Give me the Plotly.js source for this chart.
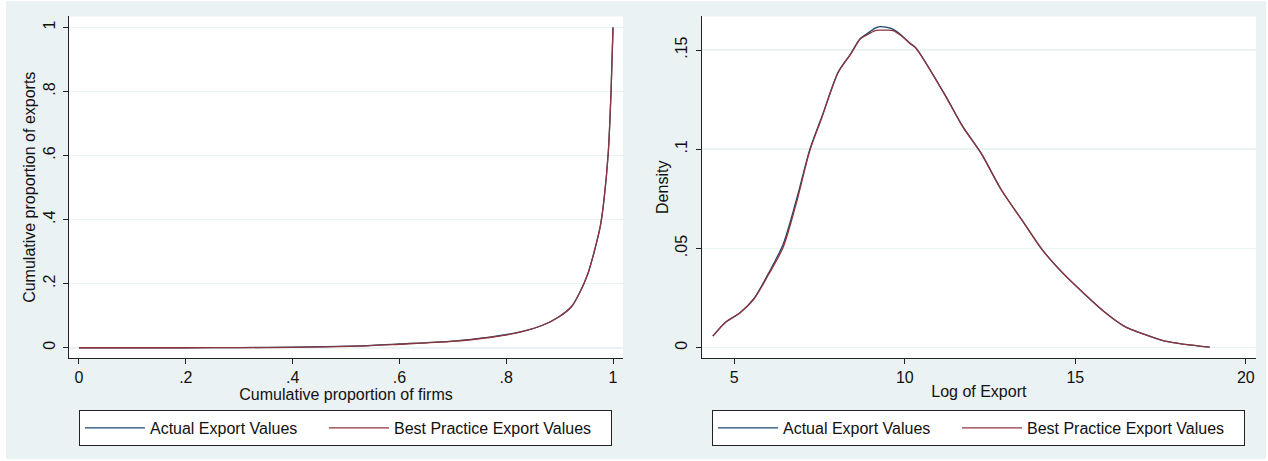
<!DOCTYPE html>
<html><head><meta charset="utf-8">
<script src="https://cdn.plot.ly/plotly-3.0.1.min.js"></script>
<style>html,body{margin:0;padding:0;background:#fff;}#chart{position:absolute;left:6px;top:1px;width:1260px;height:458px;}</style>
</head><body><div id="chart"></div>
<script>
// Left panel: cumulative proportion of firms vs cumulative proportion of exports
const lorenzX      = [0, 0.1, 0.2, 0.3, 0.4, 0.525, 0.6, 0.693, 0.769, 0.83, 0.869, 0.899, 0.922, 0.937, 0.953, 0.964, 0.976, 0.983, 0.991, 0.9963, 1];
const lorenzActual = [0, 0, 0, 0.0005, 0.002, 0.006, 0.012, 0.020, 0.033, 0.051, 0.071, 0.097, 0.128, 0.170, 0.232, 0.295, 0.378, 0.461, 0.607, 0.80, 1.0];
const lorenzBest   = [0, 0, 0, 0.0005, 0.001, 0.005, 0.011, 0.019, 0.032, 0.050, 0.071, 0.097, 0.128, 0.170, 0.232, 0.295, 0.378, 0.461, 0.607, 0.80, 1.0];
const lorenzTickVals = [0, 0.2, 0.4, 0.6, 0.8, 1];
const lorenzTickText = ['0', '.2', '.4', '.6', '.8', '1'];

// Right panel: kernel density of log exports
const densX      = [4.37, 4.73, 5.17, 5.59, 6.01, 6.43, 6.85, 7.21, 7.57, 8.05, 8.41, 8.69, 8.88, 9.13, 9.27, 9.45, 9.65, 9.9, 10.15, 10.32, 11.16, 11.70, 12.24, 12.83, 13.43, 14.03, 14.63, 15.23, 15.83, 16.43, 17.03, 17.63, 18.22, 18.94];
const densActual = [0.0058, 0.0126, 0.0176, 0.0251, 0.0377, 0.0520, 0.0763, 0.0997, 0.1165, 0.1390, 0.1480, 0.1557, 0.1580, 0.1610, 0.1618, 0.1615, 0.1605, 0.1575, 0.1535, 0.1512, 0.1280, 0.1115, 0.0980, 0.0796, 0.0645, 0.0494, 0.0377, 0.0277, 0.0184, 0.0109, 0.0067, 0.0033, 0.0017, 0.0003];
const densBest   = [0.0058, 0.0126, 0.0176, 0.0248, 0.0370, 0.0505, 0.0748, 0.0990, 0.1160, 0.1388, 0.1478, 0.1555, 0.1575, 0.1598, 0.1600, 0.1600, 0.1598, 0.1572, 0.1533, 0.1510, 0.1278, 0.1113, 0.0978, 0.0795, 0.0644, 0.0493, 0.0376, 0.0277, 0.0184, 0.0109, 0.0067, 0.0033, 0.0017, 0.0003];
const densXTickVals = [5, 10, 15, 20];
const densYTickVals = [0, 0.05, 0.1, 0.15];
const densYTickText = ['0', '.05', '.1', '.15'];

const seriesNames = ['Actual Export Values', 'Best Practice Export Values'];
const navy = '#1a476f', maroon = '#90353b';
const bg = '#eaf2f3', axisCol = '#222';
const fontFam = 'Liberation Sans, Arial, sans-serif';
const txt = {family: fontFam, size: 16, color: '#111'};

const lineStyle = (c, s) => ({color: c, width: 1.3, shape: 'spline', smoothing: s});
const traces = [
  {x: lorenzX, y: lorenzActual, name: seriesNames[0], xaxis: 'x', yaxis: 'y', legend: 'legend',
   mode: 'lines', line: lineStyle(navy, 0.6), legendwidth: 169},
  {x: lorenzX, y: lorenzBest, name: seriesNames[1], xaxis: 'x', yaxis: 'y', legend: 'legend',
   mode: 'lines', line: lineStyle(maroon, 0.6), legendwidth: 212},
  {x: densX, y: densActual, name: seriesNames[0], xaxis: 'x2', yaxis: 'y2', legend: 'legend2',
   mode: 'lines', line: lineStyle(navy, 0.8), legendwidth: 169},
  {x: densX, y: densBest, name: seriesNames[1], xaxis: 'x2', yaxis: 'y2', legend: 'legend2',
   mode: 'lines', line: lineStyle(maroon, 0.8), legendwidth: 212}
];

const axBase = {
  showline: true, linecolor: axisCol, linewidth: 1, mirror: false, automargin: false,
  ticks: 'outside', ticklen: 5, tickwidth: 1, tickcolor: axisCol,
  zeroline: false, tickfont: txt
};
const legBase = {
  orientation: 'h', xanchor: 'left', yanchor: 'top', y: 0.107,
  bgcolor: '#ffffff', bordercolor: axisCol, borderwidth: 1,
  font: txt, itemwidth: 60, traceorder: 'normal'
};

const layout = {
  width: 1260, height: 458, autosize: false,
  margin: {l: 0, r: 0, t: 0, b: 0, pad: 0},
  paper_bgcolor: bg, plot_bgcolor: '#ffffff',
  font: {family: fontFam, color: '#111'},
  showlegend: true,
  xaxis: Object.assign({}, axBase, {
    domain: [0.05, 0.4897], range: [-0.0187, 1.0187], anchor: 'y',
    tickvals: lorenzTickVals, ticktext: lorenzTickText, showgrid: false, ticklabelstandoff: 0,
    title: {text: 'Cumulative proportion of firms', font: txt, standoff: 0}
  }),
  yaxis: Object.assign({}, axBase, {
    domain: [0.2205, 0.9662], range: [-0.032, 1.034], anchor: 'x',
    tickvals: lorenzTickVals, ticktext: lorenzTickText, tickangle: -90, ticklabelstandoff: 2,
    showgrid: true, gridcolor: bg, gridwidth: 1.5,
    title: {text: 'Cumulative proportion of exports', font: txt, standoff: 0}
  }),
  xaxis2: Object.assign({}, axBase, {
    domain: [0.5521, 0.9921], range: [4.043, 20.30], anchor: 'y2',
    tickvals: densXTickVals, showgrid: false, ticklabelstandoff: 0,
    title: {text: 'Log of Export', font: txt, standoff: 0}
  }),
  yaxis2: Object.assign({}, axBase, {
    domain: [0.2205, 0.9662], range: [-0.0052, 0.1669], anchor: 'x2',
    tickvals: densYTickVals, ticktext: densYTickText, tickangle: -90, ticklabelstandoff: 2,
    showgrid: true, gridcolor: bg, gridwidth: 1.5,
    title: {text: 'Density', font: txt, standoff: 0}
  }),
  legend: Object.assign({}, legBase, {x: 0.0579}),
  legend2: Object.assign({}, legBase, {x: 0.5603})
};

Plotly.newPlot('chart', traces, layout, {staticPlot: true, displayModeBar: false});
</script></body></html>
